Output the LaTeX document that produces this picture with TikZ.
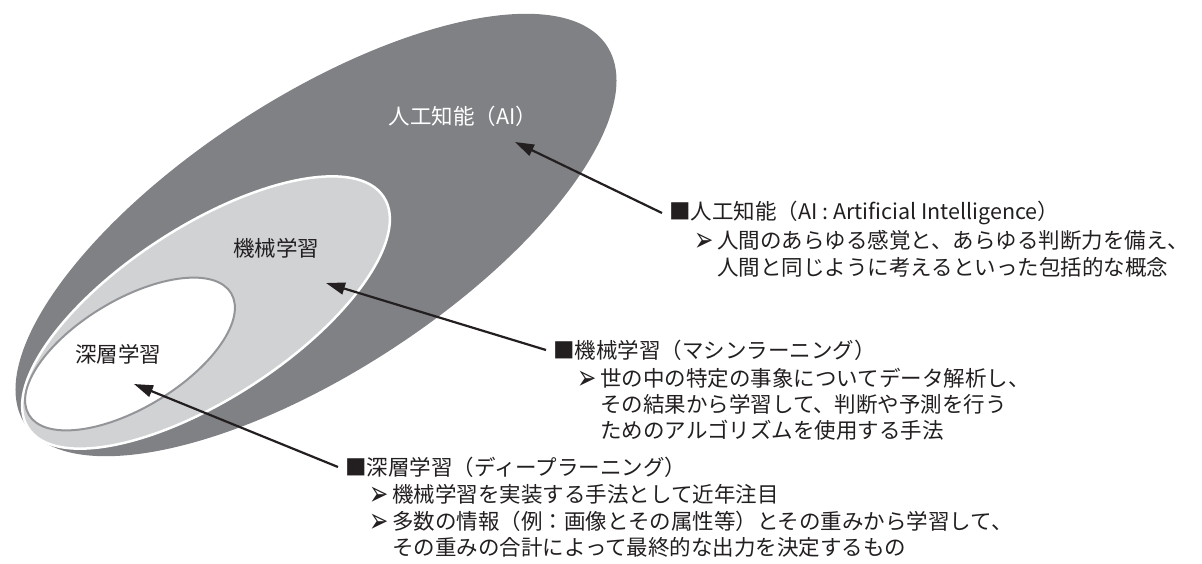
\documentclass[tikz,border=0pt]{standalone}
\usepackage{fontspec}
\setmainfont{Noto Sans CJK JP}
\newfontfamily\dingfont{DejaVu Sans}
\usetikzlibrary{arrows.meta}
\definecolor{darkg}{HTML}{808184}
\definecolor{lightg}{HTML}{D1D2D4}
\definecolor{ringg}{HTML}{939598}
\definecolor{ink}{HTML}{231F20}
\newcommand{\bul}{\makebox[23pt][l]{\smash{\raisebox{-3pt}{\scalebox{1}[1.5]{\dingfont\fontsize{23pt}{23pt}\selectfont ➢}}}}}
\begin{document}
\begin{tikzpicture}[x=1pt,y=1pt,
  lbl/.style={anchor=west, inner ysep=0pt, inner xsep=0pt, text=ink, font=\fontsize{21.5pt}{26pt}\selectfont},
  head/.style={lbl, inner xsep=7pt},
  setlbl/.style={inner sep=0pt, font=\fontsize{21.5pt}{26pt}\selectfont},
  arr/.style={draw=ink, line width=2.2pt, -{Triangle[length=19pt,width=12pt]}}]
\useasboundingbox (0,0) rectangle (1202,-563);
% sets
\fill[darkg, rotate around={33:(316,-235)}] (316,-235) ellipse [x radius=347, y radius=137];
\filldraw[fill=lightg, draw=white, line width=2.5pt, rotate around={33:(206,-312.5)}] (206,-312.5) ellipse [x radius=212, y radius=86];
\filldraw[fill=white, draw=ringg, line width=2pt, rotate around={31:(130,-354)}] (130,-354) ellipse [x radius=118, y radius=54];
% set names
\node[setlbl, text=white] (ai) at (463,-116) {人工知能（AI）};
\node[setlbl, text=ink] (ml) at (276,-248) {機械学習};
\node[setlbl, text=ink] (dl) at (118,-354) {深層学習};
% arrow tips
\coordinate (t1) at (515,-142);
\coordinate (t2) at (326,-283);
\coordinate (t3) at (134,-384);
% label 1
\node[head] (a1) at (662,-213) {■人工知能（AI : Artificial Intelligence）};
\node[lbl] (a2) at (694,-240) {\bul 人間のあらゆる感覚と、あらゆる判断力を備え、};
\node[lbl] (a3) at (717,-267) {人間と同じように考えるといった包括的な概念};
% label 2
\node[head] (b1) at (546,-350) {■機械学習（マシンラーニング）};
\node[lbl] (b2) at (577,-378) {\bul 世の中の特定の事象についてデータ解析し、};
\node[lbl] (b3) at (600,-404) {その結果から学習して、判断や予測を行う};
\node[lbl] (b4) at (600,-430) {ためのアルゴリズムを使用する手法};
% label 3
\node[head] (c1) at (338,-467) {■深層学習（ディープラーニング）};
\node[lbl] (c2) at (369,-494) {\bul 機械学習を実装する手法として近年注目};
\node[lbl] (c3) at (369,-521) {\bul 多数の情報（例：画像とその属性等）とその重みから学習して、};
\node[lbl] (c4) at (392,-547) {その重みの合計によって最終的な出力を決定するもの};
% connectors
\draw[arr] (a1.west) -- (t1);
\draw[arr] (b1.west) -- (t2);
\draw[arr] (c1.west) -- (t3);
\end{tikzpicture}
\end{document}
